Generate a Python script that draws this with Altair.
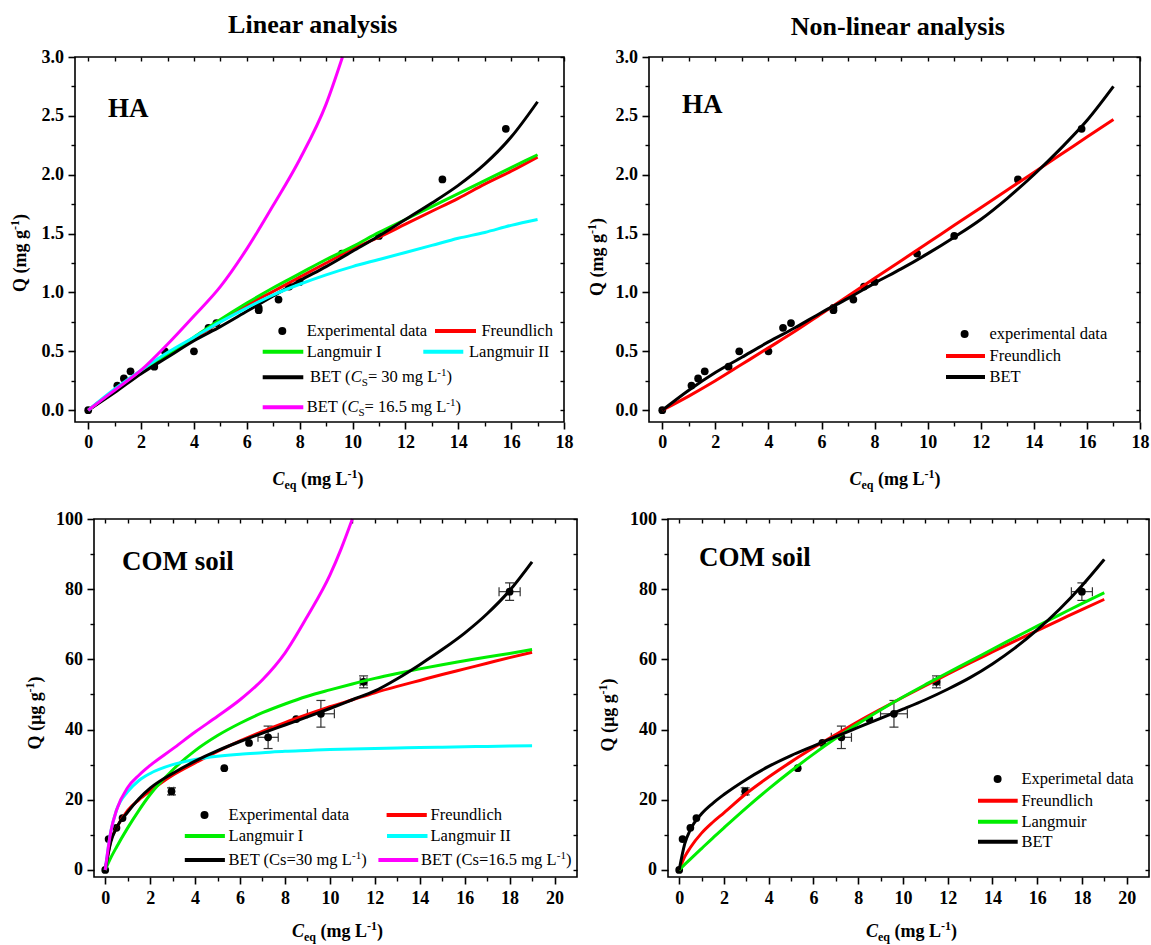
import altair as alt
import pandas as pd

FONT = "Liberation Serif"
W, H = 1151, 945

# ---------------- values ----------------
# HA experimental data (same points in both upper panels)
ha_ceq = [0, 1.1, 1.35, 1.6, 2.5, 2.9, 4.0, 4.55, 4.85, 6.45, 6.45, 7.2, 7.6, 8.0, 9.6, 11.0, 13.4, 15.8]
ha_q = [0, 0.21, 0.27, 0.33, 0.37, 0.50, 0.50, 0.70, 0.74, 0.85, 0.87, 0.94, 1.05, 1.09, 1.33, 1.48, 1.96, 2.39]

# COM soil experimental data with error bars
com_ceq = [0, 0.15, 0.5, 0.77, 2.95, 5.3, 6.4, 7.25, 8.5, 9.6, 11.5, 18.0]
com_q = [0, 8.8, 12.0, 14.8, 22.4, 29.0, 36.2, 37.8, 43.0, 44.5, 53.6, 79.3]
com_q_err = [0, 0, 0, 0, 1.0, 0, 0, 3.2, 0, 3.8, 1.7, 2.5]
com_c_err = [0, 0, 0, 0, 0.1, 0, 0, 0.45, 0, 0.6, 0.15, 0.47]

# fitted curves
ha_grid = [0, 1, 2, 3, 4, 5, 6, 7, 8, 9, 10, 11, 12, 13, 14, 15, 16, 17]
lin_ha_freundlich = [0, 0.17, 0.33, 0.47, 0.61, 0.75, 0.89, 1.01, 1.13, 1.25, 1.37, 1.47, 1.58, 1.69, 1.80, 1.92, 2.03, 2.15]
lin_ha_langmuir1 = [0, 0.16, 0.32, 0.47, 0.62, 0.77, 0.91, 1.04, 1.16, 1.28, 1.39, 1.51, 1.62, 1.73, 1.84, 1.95, 2.06, 2.17]
lin_ha_langmuir2 = [0, 0.18, 0.34, 0.49, 0.62, 0.75, 0.87, 0.98, 1.07, 1.15, 1.22, 1.28, 1.34, 1.40, 1.46, 1.51, 1.57, 1.62]
lin_ha_bet30 = [0, 0.15, 0.31, 0.45, 0.59, 0.71, 0.84, 0.97, 1.10, 1.22, 1.35, 1.48, 1.62, 1.76, 1.91, 2.09, 2.32, 2.62]
lin_ha_bet165_x = [0, 1, 2, 3, 4, 5, 6, 7, 8, 9, 9.62]
lin_ha_bet165 = [0, 0.17, 0.34, 0.56, 0.80, 1.05, 1.37, 1.74, 2.13, 2.60, 3.0]
nl_ha_freundlich = [0, 0.12, 0.25, 0.39, 0.53, 0.67, 0.82, 0.97, 1.12, 1.27, 1.42, 1.57, 1.72, 1.87, 2.02, 2.17, 2.32, 2.47]
nl_ha_bet = [0, 0.17, 0.32, 0.45, 0.58, 0.70, 0.83, 0.95, 1.08, 1.20, 1.33, 1.47, 1.62, 1.80, 2.00, 2.22, 2.46, 2.75]

com_grid = [0, 0.25, 0.5, 1, 1.5, 2, 3, 4, 5, 6, 7, 8, 9, 10, 11, 12, 13, 14, 15, 16, 17, 18, 19]
lin_com_freundlich = [0, 8.5, 12, 17, 20, 22.5, 27, 30.5, 33.8, 36.8, 39.5, 42, 44.3, 46.5, 48.5, 50.5, 52.3, 54, 55.7, 57.3, 58.9, 60.5, 62]
lin_com_langmuir1 = [0, 3.5, 6.5, 12, 17, 21.5, 28.5, 34, 38.3, 41.8, 44.8, 47.3, 49.5, 51.3, 53, 54.6, 56.0, 57.3, 58.5, 59.6, 60.7, 61.7, 62.8]
lin_com_langmuir2 = [0, 11, 17, 22.3, 25.5, 27.5, 30, 31.5, 32.4, 33.0, 33.4, 33.8, 34.05, 34.3, 34.45, 34.6, 34.75, 34.9, 35.0, 35.1, 35.2, 35.3, 35.4]
lin_com_bet30 = [0, 8, 12, 16.5, 20.3, 23.3, 27.5, 31, 34, 36.6, 39, 41.3, 43.6, 46, 48.5, 51, 54.5, 58.5, 62.8, 67.5, 73, 79.6, 87.8]
lin_com_bet165_x = [0, 0.25, 0.5, 1, 1.5, 2, 3, 4, 5, 6, 7, 8, 9, 10, 10.5, 11]
lin_com_bet165 = [0, 11, 17, 23.5, 27, 29.8, 34.5, 39.3, 43.8, 48.5, 54.2, 61.8, 72.3, 84, 91.5, 100]
nl_com_freundlich = [0, 3.8, 6.4, 10.5, 13.6, 16.3, 21.8, 26.5, 30.8, 34.8, 38.6, 42.3, 45.8, 49.2, 52.5, 55.8, 59.0, 62.1, 65.2, 68.2, 71.2, 74.2, 77.1]
nl_com_langmuir = [0, 1.6, 3.1, 6.1, 9.1, 12, 17.7, 23.1, 28.2, 33, 37.5, 41.7, 45.6, 49.3, 52.8, 56.2, 59.5, 62.9, 66.2, 69.5, 72.7, 75.9, 79.0]
nl_com_bet = [0, 7.5, 11.5, 16, 19, 21.5, 25.8, 29.5, 32.6, 35.3, 38, 40.6, 43.2, 45.8, 48.5, 51.5, 54.8, 58.7, 63.2, 68.4, 74.3, 81.0, 88.5]

# axis ticks
ha_x_major = [0, 2, 4, 6, 8, 10, 12, 14, 16, 18]
ha_x_minor = [1, 3, 5, 7, 9, 11, 13, 15, 17]
ha_x_all = list(range(0, 19))
ha_y_major = [0, 0.5, 1.0, 1.5, 2.0, 2.5, 3.0]
ha_y_minor = [0.25, 0.75, 1.25, 1.75, 2.25, 2.75]
ha_y_all = [0, 0.25, 0.5, 0.75, 1.0, 1.25, 1.5, 1.75, 2.0, 2.25, 2.5, 2.75, 3.0]
com_x_major = [0, 2, 4, 6, 8, 10, 12, 14, 16, 18, 20]
com_x_minor = [1, 3, 5, 7, 9, 11, 13, 15, 17, 19]
com_x_all = list(range(0, 21))
com_y_major = [0, 20, 40, 60, 80, 100]
com_y_minor = [10, 30, 50, 70, 90]
com_y_all = [0, 10, 20, 30, 40, 50, 60, 70, 80, 90, 100]

RED, GREEN, CYAN, MAGENTA, BLACK = "#ff0000", "#00ee00", "#00ffff", "#ff00ff", "#000000"

# ---------------- text helpers (Times metrics) ----------------
REG = {" ": 250, "(": 333, ")": 333, "-": 333, ".": 250, "=": 564, "A": 722, "B": 667, "C": 667,
       "E": 611, "F": 556, "I": 333, "L": 611, "S": 556, "T": 611, "M": 889, "O": 722, "H": 722,
       "a": 444, "c": 444, "d": 500, "e": 444, "g": 500, "h": 500, "i": 278, "l": 278, "m": 778,
       "n": 500, "o": 500, "p": 500, "q": 500, "r": 333, "s": 389, "t": 278, "u": 500, "x": 500,
       "y": 500}
BOLD = {" ": 250, "(": 333, ")": 333, "-": 333, ".": 250, "A": 722, "C": 722, "H": 778, "L": 667,
        "M": 944, "N": 722, "O": 778, "Q": 778, "a": 500, "e": 444, "g": 500, "i": 278, "l": 278,
        "m": 833, "n": 556, "o": 500, "q": 556, "r": 444, "s": 389, "y": 500, "\u00b5": 556}


def tw(s, size, weight="normal", style="normal"):
    table = BOLD if weight == "bold" else REG
    tot = 0
    for ch in s:
        if style == "italic" and ch == "C":
            tot += 667
        else:
            tot += table.get(ch, 500)
    return tot * size / 1000.0


ONE = pd.DataFrame({"k": [0]})


def rich(runs, x, y, center=False, angle=0):
    widths = [tw(t, s, wg, st) for t, s, wg, st, sh in runs]
    off = -sum(widths) / 2.0 if center else 0.0
    out = []
    for (t, s, wg, st, sh), wd in zip(runs, widths):
        lead = len(t) - len(t.lstrip(" "))
        kw = dict(text=t.strip(" "), font=FONT, fontSize=s, fontWeight=wg, fontStyle=st,
                  align="left", baseline="alphabetic", color="black",
                  dx=off + tw(" " * lead, s, wg, st), dy=sh)
        if angle:
            kw["angle"] = angle
        out.append(alt.Chart(ONE).mark_text(**kw).encode(x=alt.value(x), y=alt.value(y)))
        off += wd
    return out


def plain(t, size=16.5, weight="normal"):
    return [(t, size, weight, "normal", 0)]


def xtitle():
    return [("C", 18, "bold", "italic", 0), ("eq", 12, "bold", "normal", 4),
            (" (mg L", 18, "bold", "normal", 0), ("-1", 12, "bold", "normal", -7),
            (")", 18, "bold", "normal", 0)]


def ytitle(unit):
    return [("Q (" + unit + " g", 18, "bold", "normal", 0), ("-1", 12, "bold", "normal", -7),
            (")", 18, "bold", "normal", 0)]


def bet_runs(val):
    return [("BET (", 16.5, "normal", "normal", 0), ("C", 16.5, "normal", "italic", 0),
            ("S", 11, "normal", "normal", 4), ("= " + val + " mg L", 16.5, "normal", "normal", 0),
            ("-1", 11, "normal", "normal", -6), (")", 16.5, "normal", "normal", 0)]


def bet_runs2(val):
    return [("BET (Cs=" + val + " mg L", 16.5, "normal", "normal", 0),
            ("-1", 11, "normal", "normal", -6), (")", 16.5, "normal", "normal", 0)]


# ---------------- panel builder (absolute placement on one canvas) ----------------
def panel_layers(c):
    x0, y0, x1, y1 = c["box"]
    xdom, ydom = c["xdom"], c["ydom"]

    def X(f, ax=None):
        return alt.X(f + ":Q", scale=alt.Scale(domain=xdom, range=[x0, x1], nice=False, zero=False), axis=ax)

    def Y(f, ax=None):
        return alt.Y(f + ":Q", scale=alt.Scale(domain=ydom, range=[y1, y0], nice=False, zero=False), axis=ax)

    lab = dict(labelFont=FONT, labelFontSize=18, labelFontWeight="bold", labelColor="black",
               labelFlush=False, labelOverlap=False, labelBound=False)
    com = dict(grid=False, title=None, tickColor="black", domain=False)
    main_x = alt.Axis(orient="bottom", offset=y1 - H, values=c["xmaj"], format="d", tickSize=7,
                      tickWidth=1.6, labelPadding=c["xpad"], **lab, **com)
    main_y = alt.Axis(orient="left", offset=-x0, values=c["ymaj"], format=c["yfmt"], tickSize=7,
                      tickWidth=1.6, labelPadding=4.5, **lab, **com)
    minor_x = alt.Axis(orient="bottom", offset=y1 - H, values=c["xmin"], tickSize=4, tickWidth=1.4,
                       labels=False, **com)
    minor_y = alt.Axis(orient="left", offset=-x0, values=c["ymin"], tickSize=4, tickWidth=1.4,
                       labels=False, **com)
    top_x = alt.Axis(orient="top", offset=-(y0 + 4), values=c["xall"], tickSize=4, tickWidth=1.4,
                     labels=False, **com)
    right_y = alt.Axis(orient="right", offset=(x1 - 4) - W, values=c["yall"], tickSize=4,
                       tickWidth=1.4, labels=False, **com)

    layers = []
    pts = c["points"]
    if "qerr" in pts:
        EC = "#333333"
        v = pts[pts.qerr > 0].assign(ylo=lambda d: d.y - d.qerr, yhi=lambda d: d.y + d.qerr)
        hz = pts[pts.cerr > 0].assign(xlo=lambda d: d.x - d.cerr, xhi=lambda d: d.x + d.cerr)
        layers.append(alt.Chart(v).mark_rule(color=EC, strokeWidth=1.2).encode(x=X("x"), y=Y("ylo"), y2="yhi"))
        for f in ("ylo", "yhi"):
            layers.append(alt.Chart(v).mark_tick(orient="horizontal", size=9, thickness=1.2, color=EC,
                                                 opacity=1).encode(x=X("x"), y=Y(f)))
        layers.append(alt.Chart(hz).mark_rule(color=EC, strokeWidth=1.2).encode(x=X("xlo"), x2="xhi", y=Y("y")))
        for f in ("xlo", "xhi"):
            layers.append(alt.Chart(hz).mark_tick(orient="vertical", size=9, thickness=1.2, color=EC,
                                                  opacity=1).encode(x=X(f), y=Y("y")))

    layers.append(alt.Chart(pts).mark_circle(size=60, color="black", opacity=1).encode(
        x=X("x", main_x), y=Y("y", main_y)))
    layers.append(alt.Chart(pts).mark_point(opacity=0).encode(x=X("x", minor_x), y=Y("y", minor_y)))
    layers.append(alt.Chart(pts).mark_point(opacity=0).encode(x=X("x", top_x), y=Y("y", right_y)))

    for xs, ys, col in c["curves"]:
        layers.append(alt.Chart(pd.DataFrame({"x": xs, "y": ys})).mark_line(
            color=col, strokeWidth=3, interpolate="monotone").encode(x=X("x"), y=Y("y")))

    # plot frame
    layers.append(alt.Chart(ONE).mark_rect(fillOpacity=0, stroke="black", strokeWidth=1.6).encode(
        x=alt.value(x0), x2=alt.value(x1), y=alt.value(y0), y2=alt.value(y1)))

    for item in c["legend"]:
        if item[0] == "dot":
            layers.append(alt.Chart(ONE).mark_circle(size=64, color="black", opacity=1).encode(
                x=alt.value(item[1]), y=alt.value(item[2])))
        elif item[0] == "line":
            layers.append(alt.Chart(ONE).mark_rule(color=item[4], strokeWidth=4).encode(
                x=alt.value(item[1]), x2=alt.value(item[2]), y=alt.value(item[3])))
        else:
            layers += rich(item[3], item[1], item[2] + 5)

    layers += rich(plain(c["label"], 27, "bold"), c["label_pos"][0], c["label_pos"][1])
    if c.get("title"):
        layers += rich(plain(c["title"], 26, "bold"), c["title_pos"][0], c["title_pos"][1], center=True)
    layers += rich(ytitle(c["yunit"]), c["ytitle_pos"][0], c["ytitle_pos"][1], center=True, angle=270)
    layers += rich(xtitle(), c["xtitle_pos"][0], c["xtitle_pos"][1], center=True)
    return layers


ha_pts = pd.DataFrame({"x": ha_ceq, "y": ha_q})
com_pts = pd.DataFrame({"x": com_ceq, "y": com_q, "qerr": com_q_err, "cerr": com_c_err})

ha_axes = dict(xdom=[-0.5, 18], ydom=[-0.1, 3.0], xmaj=ha_x_major, xmin=ha_x_minor, xall=ha_x_all,
               ymaj=ha_y_major, ymin=ha_y_minor, yall=ha_y_all, yfmt=".1f", xpad=4, yunit="mg")
com_axes = dict(xdom=[-0.5, 21], ydom=[-2, 100], xmaj=com_x_major, xmin=com_x_minor, xall=com_x_all,
                ymaj=com_y_major, ymin=com_y_minor, yall=com_y_all, yfmt="d", xpad=5, yunit="\u00b5g")

p1 = panel_layers(dict(
    box=(75, 57, 564, 422), **ha_axes, points=ha_pts,
    curves=[(ha_grid, lin_ha_freundlich, RED), (ha_grid, lin_ha_langmuir1, GREEN),
            (ha_grid, lin_ha_bet30, BLACK), (ha_grid, lin_ha_langmuir2, CYAN),
            (lin_ha_bet165_x, lin_ha_bet165, MAGENTA)],
    legend=[("dot", 282.3, 331), ("text", 306.7, 331, plain("Experimental data")),
            ("line", 435, 476, 331, RED), ("text", 481.4, 331, plain("Freundlich")),
            ("line", 262.7, 303.3, 351.7, GREEN), ("text", 306.7, 351.7, plain("Langmuir I")),
            ("line", 423.3, 463.3, 351.7, CYAN), ("text", 469, 351.7, plain("Langmuir II")),
            ("line", 262.7, 303.3, 377.3, BLACK), ("text", 310, 377.3, bet_runs("30")),
            ("line", 262.7, 303.3, 407.3, MAGENTA), ("text", 306.7, 407.3, bet_runs("16.5"))],
    label="HA", label_pos=(108, 117), title="Linear analysis", title_pos=(313, 33),
    ytitle_pos=(26.4, 253), xtitle_pos=(318, 485)))

p2 = panel_layers(dict(
    box=(649, 57, 1140, 422), **ha_axes, points=ha_pts,
    curves=[(ha_grid, nl_ha_freundlich, RED), (ha_grid, nl_ha_bet, BLACK)],
    legend=[("dot", 964.6, 334), ("text", 989.5, 334, plain("experimental data")),
            ("line", 946, 985, 356, RED), ("text", 989.5, 356, plain("Freundlich")),
            ("line", 946, 985, 377, BLACK), ("text", 989.5, 377, plain("BET"))],
    label="HA", label_pos=(682, 113), title="Non-linear analysis", title_pos=(898, 35),
    ytitle_pos=(602.5, 257), xtitle_pos=(895, 485)))

p3 = panel_layers(dict(
    box=(94, 519, 577, 877), **com_axes, points=com_pts,
    curves=[(com_grid, lin_com_freundlich, RED), (com_grid, lin_com_langmuir1, GREEN),
            (com_grid, lin_com_langmuir2, CYAN), (com_grid, lin_com_bet30, BLACK),
            (lin_com_bet165_x, lin_com_bet165, MAGENTA)],
    legend=[("dot", 204.5, 815), ("text", 228.6, 815, plain("Experimental data")),
            ("line", 386.6, 426.8, 815, RED), ("text", 430.5, 815, plain("Freundlich")),
            ("line", 184.8, 224.9, 836, GREEN), ("text", 228.6, 836, plain("Langmuir I")),
            ("line", 387, 427.5, 836, CYAN), ("text", 430.5, 836, plain("Langmuir II")),
            ("line", 184.8, 224.9, 860, BLACK), ("text", 228.6, 860, bet_runs2("30")),
            ("line", 378.4, 418.2, 860, MAGENTA), ("text", 421, 860, bet_runs2("16.5"))],
    label="COM soil", label_pos=(122, 569.6),
    ytitle_pos=(41.3, 713), xtitle_pos=(337.5, 937)))

p4 = panel_layers(dict(
    box=(668, 519, 1149, 877), **com_axes, points=com_pts,
    curves=[(com_grid, nl_com_freundlich, RED), (com_grid, nl_com_langmuir, GREEN),
            (com_grid, nl_com_bet, BLACK)],
    legend=[("dot", 997.6, 779), ("text", 1021.4, 779, plain("Experimetal data")),
            ("line", 978, 1017.7, 800.7, RED), ("text", 1021.4, 800.7, plain("Freundlich")),
            ("line", 978, 1017.7, 821.7, GREEN), ("text", 1021.4, 821.7, plain("Langmuir")),
            ("line", 978, 1017.7, 841.7, BLACK), ("text", 1021.4, 841.7, plain("BET"))],
    label="COM soil", label_pos=(699, 566),
    ytitle_pos=(613.5, 715), xtitle_pos=(911.5, 937)))

chart = alt.layer(*(p1 + p2 + p3 + p4)).resolve_scale(
    x="independent", y="independent"
).resolve_axis(
    x="independent", y="independent"
).properties(
    width=W, height=H, padding=0, background="white",
    autosize=alt.AutoSizeParams(type="none"),
).configure_view(stroke="transparent")

chart.save("out.html", embed_options={"renderer": "svg", "actions": False})
